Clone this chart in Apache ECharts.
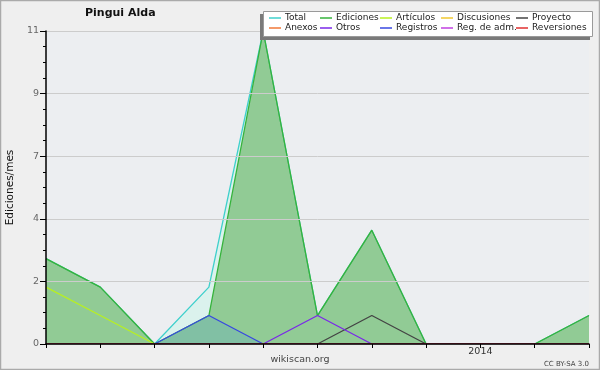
<!DOCTYPE html>
<html><head><meta charset="utf-8">
<script src="https://cdn.jsdelivr.net/npm/echarts@6/dist/echarts.min.js"></script>
<style>html,body{margin:0;padding:0;background:#efefef}#c{width:600px;height:370px}</style>
</head><body><div id="c"></div>
<script>
var months = ['2013-05','2013-06','2013-07','2013-08','2013-09','2013-10','2013-11','2013-12','2014-01','2014-02','2014-03'];
var tickLabels = ['','','','','','','','','2014','',''];
var yTickLabels = ['0','2','4','7','9','11'];
var total       = [3,2,0,2,11,1,4,0,0,0,1];
var ediciones   = [3,2,0,1,11,1,4,0,0,0,1];
var articulos   = [2,1,0,0,0,0,0,0,0,0,0];
var discusiones = [0,0,0,0,0,0,0,0,0,0,0];
var proyecto    = [0,0,0,0,0,0,1,0,0,0,0];
var anexos      = [0,0,0,0,0,0,0,0,0,0,0];
var otros       = [0,0,0,0,0,1,0,0,0,0,0];
var registros   = [0,0,0,1,0,0,0,0,0,0,0];
var regAdm      = [0,0,0,0,0,0,0,0,0,0,0];
var reversiones = [0,0,0,0,0,0,0,0,0,0,0];

var FONT = 'DejaVu Sans';
function ser(name, data, color, area, z) {
  var s = {name: name, type: 'line', data: data, symbol: 'none', z: z || 2,
    lineStyle: {color: color, width: 1.3}, itemStyle: {color: color}};
  if (area) s.areaStyle = {color: area, opacity: 1};
  return s;
}
var series = [
  ser('Total', total, '#3fd0cc', 'rgba(180,252,230,0.3)', 2),
  ser('Ediciones', ediciones, '#36b33c', 'rgba(72,164,62,0.5)', 3),
  ser('Artículos', articulos, '#b8f020', null, 4),
  ser('Discusiones', discusiones, '#f0c830', null, 4),
  ser('Proyecto', proyecto, '#444444', null, 4),
  ser('Anexos', anexos, '#f07838', null, 4),
  ser('Otros', otros, '#7a28e8', null, 4),
  ser('Registros', registros, '#3848e0', 'rgba(66,148,225,0.2)', 4),
  ser('Reg. de adm.', regAdm, '#c040e0', null, 4),
  ser('Reversiones', reversiones, '#e03030', null, 4)
];
var cols = [['Total','Anexos'],['Ediciones','Otros'],['Artículos','Registros'],['Discusiones','Reg. de adm.'],['Proyecto','Reversiones']];
var colX = [269, 320, 380, 441, 516];
var legends = cols.map(function (d, i) {
  return {data: d, orient: 'vertical', left: colX[i], top: 13, padding: 0, itemGap: 0,
    itemWidth: 12, itemHeight: 1.5, icon: 'rect', z: 100, selectedMode: false,
    textStyle: {fontFamily: FONT, fontSize: 9, color: '#222', lineHeight: 10, padding: [0,0,0,-1]}};
});
var chart = echarts.init(document.getElementById('c'));
chart.setOption({
  backgroundColor: '#efefef',
  animation: false,
  title: {text: 'Pingui Alda', left: 85, top: 8, padding: 0,
    textStyle: {fontFamily: FONT, fontSize: 11, fontWeight: 'bold', color: '#111'}},
  legend: legends,
  grid: {left: 46, right: 11, top: 31, bottom: 26, show: true, backgroundColor: '#eceef1', borderWidth: 0,
    containLabel: false, outerBoundsMode: 'none'},
  xAxis: {type: 'category', data: months, boundaryGap: false, z: 10,
    axisLine: {lineStyle: {color: '#000', width: 1.5}},
    axisTick: {show: true, length: 4, interval: 0, lineStyle: {color: '#000'}},
    axisLabel: {interval: 0, margin: 3, fontFamily: FONT, fontSize: 9.5, color: '#333',
      formatter: function (v, i) { return tickLabels[i]; }},
    splitLine: {show: false}},
  yAxis: {type: 'value', min: 0, max: 11, interval: 2.2, z: 10,
    name: 'Ediciones/mes', nameLocation: 'middle', nameGap: 30,
    nameTextStyle: {fontFamily: FONT, fontSize: 10.5, color: '#111'},
    axisLine: {show: true, lineStyle: {color: '#000', width: 1.5}},
    axisTick: {show: true, length: 6, lineStyle: {color: '#000'}},
    minorTick: {show: true, splitNumber: 4, length: 3, lineStyle: {color: '#000'}},
    axisLabel: {margin: 7, fontFamily: FONT, fontSize: 9.5, color: '#666',
      formatter: function (v) { return yTickLabels[Math.round(v / 2.2)]; }},
    splitLine: {show: true, lineStyle: {color: '#cccccc', width: 1}}},
  series: series,
  graphic: [
    {type: 'rect', z: 200, silent: true, shape: {x: 0.5, y: 0.5, width: 599, height: 369},
      style: {fill: 'none', stroke: '#aaaaaa', lineWidth: 1.5}},
    {type: 'rect', z: 90, shape: {x: 260, y: 14, width: 330, height: 26}, style: {fill: '#7a7a7a'}},
    {type: 'rect', z: 91, shape: {x: 263.5, y: 11.5, width: 329, height: 25}, style: {fill: '#ffffff', stroke: '#9a9a9a', lineWidth: 1}},
    {type: 'text', z: 100, left: 'center', top: 355, style: {text: 'wikiscan.org', font: '9.5px "DejaVu Sans"', fill: '#444'}},
    {type: 'text', z: 100, right: 11, top: 361, style: {text: 'CC BY-SA 3.0', font: '7px "DejaVu Sans"', fill: '#444'}}
  ]
});
</script></body></html>
